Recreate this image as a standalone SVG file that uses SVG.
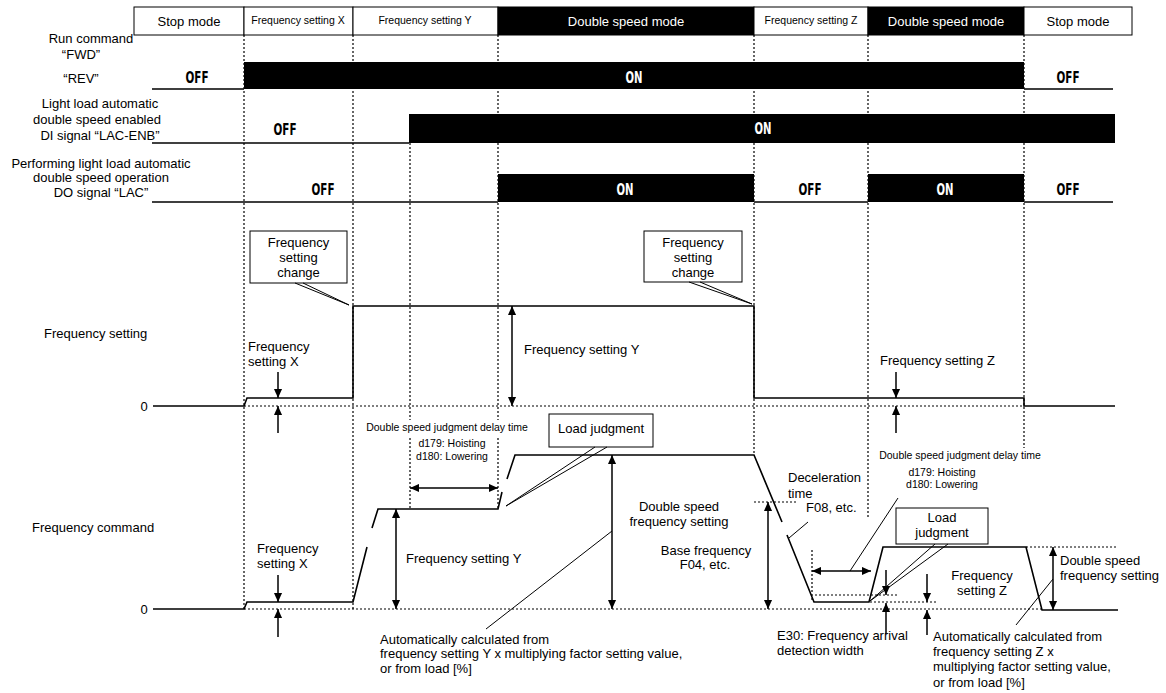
<svg xmlns="http://www.w3.org/2000/svg" width="1166" height="693" viewBox="0 0 1166 693">
<defs>
<marker id="ah" viewBox="0 0 10 10" refX="10" refY="5" markerWidth="9" markerHeight="9" markerUnits="userSpaceOnUse" orient="auto-start-reverse"><path d="M0,0.5 L10,5 L0,9.5 z" fill="#000"/></marker>
</defs>
<style>
text{font-family:"Liberation Sans",Arial,sans-serif;font-size:13px;fill:#000}
.s{font-size:10.5px}
.m{text-anchor:middle}
.w{fill:#fff}
.sw{font-family:"DejaVu Sans Condensed","DejaVu Sans",sans-serif;font-weight:bold;font-size:16px;font-stretch:condensed}
.ln{stroke:#000;stroke-width:1.6;fill:none}
.dt{stroke:#000;stroke-width:1.2;stroke-dasharray:2,2;fill:none}
.bx{fill:#fff;stroke:#000;stroke-width:1}
.bk{fill:#000;stroke:#000;stroke-width:1}
.th{stroke:#000;stroke-width:1;fill:none}
.ar{stroke:#000;stroke-width:1.5;fill:none;marker-end:url(#ah)}
.ar2{stroke:#000;stroke-width:1.5;fill:none;marker-start:url(#ah);marker-end:url(#ah)}
</style>
<rect width="1166" height="693" fill="#fff"/>

<g id="gridlines">
<path class="dt" d="M244,35 V609 M353,35 V609 M410,143 V420 M410,438 V509 M498,35 V420 M498,438 V509 M754,35 V455 M868,35 V517 M1024,35 V448"/>
</g>

<g id="header">
<rect class="bx" x="134" y="7" width="110" height="28"/>
<rect class="bx" x="244" y="7" width="109" height="28"/>
<rect class="bx" x="353" y="7" width="145" height="28"/>
<rect class="bk" x="498" y="7" width="256" height="28"/>
<rect class="bx" x="754" y="7" width="114" height="28"/>
<rect class="bk" x="868" y="7" width="156" height="28"/>
<rect class="bx" x="1024" y="7" width="108" height="28"/>
<text class="m" x="189" y="25.5">Stop mode</text>
<text class="m s" x="298" y="23.5">Frequency setting X</text>
<text class="m s" x="425" y="23.5">Frequency setting Y</text>
<text class="m w" x="626" y="25.5">Double speed mode</text>
<text class="m s" x="811" y="23.5">Frequency setting Z</text>
<text class="m w" x="946" y="25.5">Double speed mode</text>
<text class="m" x="1078" y="25.5">Stop mode</text>
</g>

<g id="run-command">
<text class="m" x="91" y="42.5">Run command</text>
<text class="m" x="81" y="58.5">“FWD”</text>
<text class="m" x="81" y="82.5">“REV”</text>
<rect x="244" y="62" width="780" height="27" fill="#000"/>
<path class="ln" d="M152,89 H244 M1024,89 H1113"/>
<text class="sw m" x="197" y="83" textLength="23" lengthAdjust="spacingAndGlyphs">OFF</text>
<text class="sw m w" x="634" y="83" textLength="17" lengthAdjust="spacingAndGlyphs">ON</text>
<text class="sw m" x="1068" y="83" textLength="23" lengthAdjust="spacingAndGlyphs">OFF</text>
</g>

<g id="lac-enb">
<text class="m" x="100" y="107.5">Light load automatic</text>
<text class="m" x="97" y="123.5">double speed enabled</text>
<text class="m" x="100" y="139.5">DI signal “LAC-ENB”</text>
<rect x="409" y="114" width="706" height="29" fill="#000"/>
<path class="ln" d="M152,143 H409"/>
<text class="sw m" x="285" y="135" textLength="23" lengthAdjust="spacingAndGlyphs">OFF</text>
<text class="sw m w" x="763" y="134" textLength="17" lengthAdjust="spacingAndGlyphs">ON</text>
</g>

<g id="lac">
<text class="m" x="101" y="167.5">Performing light load automatic</text>
<text class="m" x="101" y="181.5">double speed operation</text>
<text class="m" x="101" y="196.5">DO signal “LAC”</text>
<rect x="498" y="174" width="256" height="28" fill="#000"/>
<rect x="868" y="174" width="156" height="28" fill="#000"/>
<path class="ln" d="M152,202 H498 M754,202 H868 M1024,202 H1113"/>
<text class="sw m" x="323" y="195" textLength="23" lengthAdjust="spacingAndGlyphs">OFF</text>
<text class="sw m w" x="625" y="195" textLength="17" lengthAdjust="spacingAndGlyphs">ON</text>
<text class="sw m" x="810" y="195" textLength="23" lengthAdjust="spacingAndGlyphs">OFF</text>
<text class="sw m w" x="945" y="195" textLength="17" lengthAdjust="spacingAndGlyphs">ON</text>
<text class="sw m" x="1068" y="195" textLength="23" lengthAdjust="spacingAndGlyphs">OFF</text>
</g>

<g id="frequency-setting">
<text x="44" y="337.5">Frequency setting</text>
<text class="m" x="144" y="410.5">0</text>
<path class="dt" d="M244,406 H1024"/>
<path class="ln" d="M153,406 H244 L247,398 H353 V306 H754 V398 H1024 V406 H1115"/>
<text x="248" y="350.5">Frequency</text>
<text x="248" y="365.5">setting X</text>
<path class="ar" d="M278,372 V398"/>
<path class="ar" d="M278,433 V406"/>
<path class="ar2" d="M512,306 V406"/>
<text x="524" y="353.5">Frequency setting Y</text>
<text x="880" y="364.5">Frequency setting Z</text>
<path class="ar" d="M896,372 V398"/>
<path class="ar" d="M896,433 V406"/>
</g>

<g id="callout-change-1">
<rect class="bx" x="250" y="231" width="97" height="52"/>
<text class="m" x="298.5" y="246.5">Frequency</text>
<text class="m" x="298.5" y="261.5">setting</text>
<text class="m" x="298.5" y="276.5">change</text>
<path class="th" d="M295,283 L349,305 L303,283"/>
</g>

<g id="callout-change-2">
<rect class="bx" x="644" y="231" width="98" height="51"/>
<text class="m" x="693" y="246.5">Frequency</text>
<text class="m" x="693" y="261.5">setting</text>
<text class="m" x="693" y="276.5">change</text>
<path class="th" d="M689,282 L752,304 L700,282"/>
</g>

<g id="frequency-command">
<text x="32" y="531.5">Frequency command</text>
<text class="m" x="144" y="613.5">0</text>
<path class="dt" d="M244,609 H1042"/>
<path class="ln" d="M153,609 H244 L247,602 H353 L367,547 M372,528 L378,509 H498 L502,492 M507,479 L515,455 H754 L782,522 M787,535 L814,602 H869 L883,547 H1026 L1042,610 H1118"/>
<text x="257" y="552.5">Frequency</text>
<text x="257" y="567.5">setting X</text>
<path class="ar" d="M278,575 V602"/>
<path class="ar" d="M278,637 V609"/>
<path class="ar2" d="M396,509 V609"/>
<text x="406" y="562.5">Frequency setting Y</text>
</g>

<g id="delay-1">
<text class="m s" x="447" y="430.5">Double speed judgment delay time</text>
<text class="m s" x="452" y="446.5">d179: Hoisting</text>
<text class="m s" x="452" y="459.5">d180: Lowering</text>
<path class="ar2" d="M410,488 H498"/>
</g>

<g id="load-judgment-1">
<rect class="bx" x="549" y="414" width="104" height="33"/>
<text class="m" x="601" y="433">Load judgment</text>
<path class="th" d="M595,447 L506,506 L607,447"/>
</g>

<g id="double-speed-1">
<path class="ar2" d="M612,455 V609"/>
<text class="m" x="679" y="510.5">Double speed</text>
<text class="m" x="679" y="525.5">frequency setting</text>
<path class="th" d="M612,531 L486,629"/>
<text x="380" y="643.5">Automatically calculated from</text>
<text x="380" y="657.5">frequency setting Y x multiplying factor setting value,</text>
<text x="380" y="672.5">or from load [%]</text>
</g>

<g id="base-frequency">
<path class="dt" d="M754,502 H798"/>
<path class="ar2" d="M768,502 V609"/>
<text class="m" x="706" y="554.5">Base frequency</text>
<text class="m" x="705" y="568.5">F04, etc.</text>
</g>

<g id="deceleration">
<text x="788" y="481.5">Deceleration</text>
<text x="788" y="497.5">time</text>
<text x="806" y="511.5">F08, etc.</text>
<path class="th" d="M808,522 L789,538"/>
</g>

<g id="delay-2">
<text class="m s" x="960" y="458.5">Double speed judgment delay time</text>
<text class="m s" x="942" y="475.5">d179: Hoisting</text>
<text class="m s" x="942" y="487.5">d180: Lowering</text>
<path class="dt" d="M812,550 V602"/>
<path class="ar2" d="M812,571 H871"/>
<path class="th" d="M850,571 L898,498"/>
</g>

<g id="load-judgment-2">
<rect class="bx" x="896" y="508" width="92" height="36"/>
<text class="m" x="942" y="522">Load</text>
<text class="m" x="942" y="537">judgment</text>
<path class="th" d="M935,544 L870,601 L948,544"/>
</g>

<g id="e30">
<path class="dt" d="M815,595 H898 M870,602 H937"/>
<path class="ar" d="M886,570 V595"/>
<path class="ar" d="M886,634 V603"/>
<text x="777" y="639.5">E30: Frequency arrival</text>
<text x="777" y="654.5">detection width</text>
</g>

<g id="setting-z">
<path class="ar" d="M927,574 V602"/>
<path class="ar" d="M927,635 V610"/>
<text class="m" x="982" y="579.5">Frequency</text>
<text class="m" x="982" y="594.5">setting Z</text>
</g>

<g id="double-speed-2">
<path class="dt" d="M1026,547 H1118"/>
<path class="ar2" d="M1053,547 V610"/>
<text x="1060" y="564.5">Double speed</text>
<text x="1060" y="579.5">frequency setting</text>
<path class="th" d="M1053,579 L1016,625"/>
<text x="933" y="640.5">Automatically calculated from</text>
<text x="933" y="655.5">frequency setting Z x</text>
<text x="933" y="670.5">multiplying factor setting value,</text>
<text x="933" y="686.5">or from load [%]</text>
</g>
</svg>
